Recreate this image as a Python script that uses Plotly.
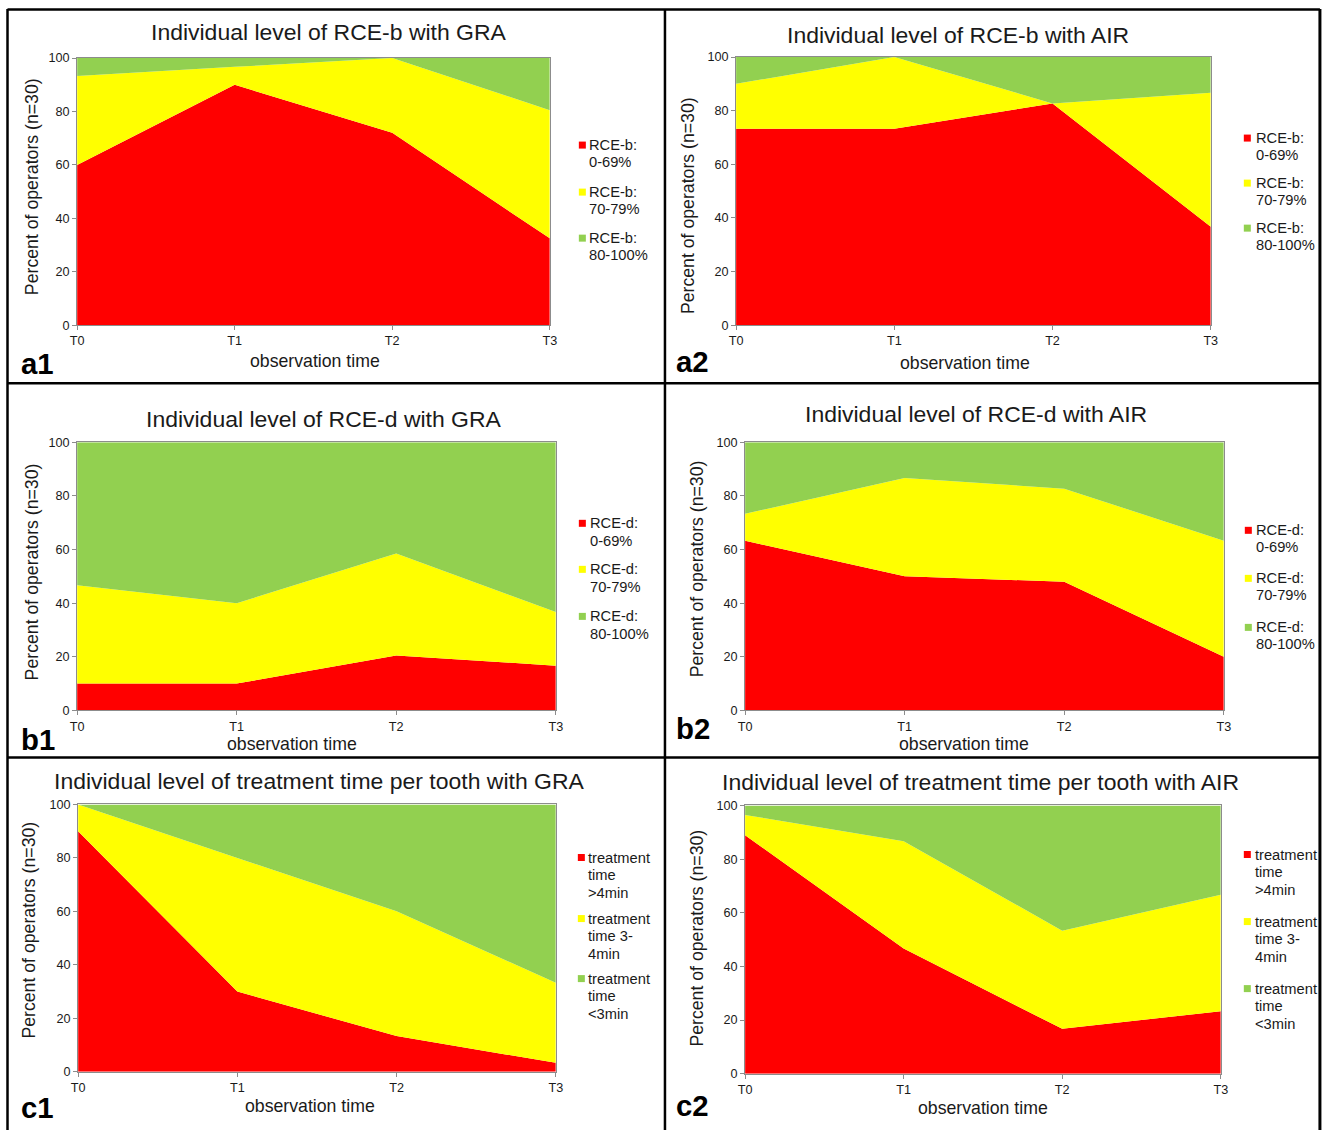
import plotly.graph_objects as go

W, H = 1327, 1130
# the photographed page is shown with an 8px offset and a slight shrink;
# layout positions below are given in target-image pixels and mapped back
OFF, SX, SY = 8, 0.988, 0.987

# ---------------- data ----------------
times = ["T0", "T1", "T2", "T3"]
xpos = [0, 1, 2, 3]
y_ticks = [0, 20, 40, 60, 80, 100]

a1_red = [60, 90, 72, 32.5]
a1_yellow = [33.3, 6.7, 28, 48]
a1_green = [6.7, 3.3, 0, 19.5]

a2_red = [73.3, 73.3, 82.7, 36.7]
a2_yellow = [16.7, 26.7, 0, 50]
a2_green = [10, 0, 17.3, 13.3]

b1_red = [10, 10, 20.5, 16.7]
b1_yellow = [36.7, 30, 38, 20]
b1_green = [53.3, 60, 41.5, 63.3]

b2_red = [63.3, 50, 48, 20]
b2_yellow = [10, 36.7, 34.7, 43.3]
b2_green = [26.7, 13.3, 17.3, 36.7]

c1_red = [90, 30, 13.3, 3.3]
c1_yellow = [10, 50, 46.7, 30]
c1_green = [0, 20, 40, 66.7]

c2_red = [88.9, 46.7, 16.7, 23.3]
c2_yellow = [7.6, 40, 36.6, 43.4]
c2_green = [3.5, 13.3, 46.7, 33.3]

titles = {
    "a1": "Individual level of RCE-b with GRA",
    "a2": "Individual level of RCE-b with AIR",
    "b1": "Individual level of RCE-d with GRA",
    "b2": "Individual level of RCE-d with AIR",
    "c1": "Individual level of treatment time per tooth with GRA",
    "c2": "Individual level of treatment time per tooth with AIR",
}
rce_b_labels = [["RCE-b:", "0-69%"], ["RCE-b:", "70-79%"], ["RCE-b:", "80-100%"]]
rce_d_labels = [["RCE-d:", "0-69%"], ["RCE-d:", "70-79%"], ["RCE-d:", "80-100%"]]
time_labels = [["treatment", "time", "&gt;4min"],
               ["treatment", "time 3-", "4min"],
               ["treatment", "time", "&lt;3min"]]
y_title = "Percent of operators (n=30)"
x_title = "observation time"

colors = ["#FF0000", "#FFFF00", "#92D050"]

# ---------------- layout geometry (target pixels) ----------------
panels = [
    dict(key="a1", data=[a1_red, a1_yellow, a1_green], labels=rce_b_labels,
         plot=(78, 550, 59, 326), title=(330, 33), xt=(316, 362), yt=(33, 188),
         lab=(20, 364), leg=(579, 587.5, [146, 193, 239], 17)),
    dict(key="a2", data=[a2_red, a2_yellow, a2_green], labels=rce_b_labels,
         plot=(736, 1210, 58, 326), title=(958, 36), xt=(965, 364), yt=(688, 206),
         lab=(674, 362), leg=(1243, 1253.5, [139, 184, 229], 17)),
    dict(key="b1", data=[b1_red, b1_yellow, b1_green], labels=rce_d_labels,
         plot=(78, 556, 443, 711), title=(325, 420), xt=(293, 745), yt=(33, 573),
         lab=(20, 740), leg=(579, 588.5, [524, 570, 617], 18)),
    dict(key="b2", data=[b2_red, b2_yellow, b2_green], labels=rce_d_labels,
         plot=(745, 1223, 443, 711), title=(976, 415), xt=(964, 745), yt=(697, 570),
         lab=(674, 729), leg=(1244, 1253.5, [531, 579, 628], 17)),
    dict(key="c1", data=[c1_red, c1_yellow, c1_green], labels=time_labels,
         plot=(79, 556, 805, 1072), title=(320, 782), xt=(311, 1106), yt=(30, 931),
         lab=(20, 1108), leg=(578, 586.5, [858, 919, 979], 17.5)),
    dict(key="c2", data=[c2_red, c2_yellow, c2_green], labels=time_labels,
         plot=(745, 1220, 806, 1074), title=(980, 783), xt=(983, 1108), yt=(697, 939),
         lab=(674, 1106), leg=(1243, 1252.5, [855, 922, 989], 17.5)),
]


def px(x):
    return ((x - OFF) / SX) / W


def py(y):
    return 1 - ((y - OFF) / SY) / H


def fs(s):
    return round(s / SX, 2)


fig = go.Figure()
annotations = []
shapes = []

TXT = "#1a1a1a"
FONT = "Liberation Sans, Arial, sans-serif"

for i, p in enumerate(panels):
    n = i + 1
    xa = "x" if n == 1 else f"x{n}"
    ya = "y" if n == 1 else f"y{n}"
    for vals, col in zip(p["data"], colors):
        fig.add_trace(go.Scatter(
            x=xpos, y=vals, xaxis=xa, yaxis=ya, mode="none",
            stackgroup=f"s{n}", fill="tonexty", fillcolor=col,
            line=dict(width=0), showlegend=False, hoverinfo="skip"))
    x0, x1, y0, y1 = p["plot"]
    axis_common = dict(showgrid=False, zeroline=False, showline=True,
                       linecolor="#8c8c8c", linewidth=1, mirror=True,
                       ticks="outside", ticklen=4, tickcolor="#8c8c8c",
                       tickfont=dict(family=FONT, size=fs(12.5), color=TXT),
                       fixedrange=True)
    fig.layout[f"xaxis{'' if n == 1 else n}"] = dict(
        domain=[px(x0), px(x1)], anchor=ya, range=[0, 3],
        tickvals=xpos, ticktext=times, **axis_common)
    fig.layout[f"yaxis{'' if n == 1 else n}"] = dict(
        domain=[py(y1), py(y0)], anchor=xa, range=[0, 100],
        tickvals=y_ticks, **axis_common)

    tx, ty = p["title"]
    annotations.append(dict(text=titles[p["key"]], x=px(tx), y=py(ty),
                            xref="paper", yref="paper", showarrow=False,
                            xanchor="center", yanchor="middle",
                            font=dict(family=FONT, size=fs(22.7), color=TXT)))
    ax_, ay_ = p["xt"]
    annotations.append(dict(text=x_title, x=px(ax_), y=py(ay_),
                            xref="paper", yref="paper", showarrow=False,
                            xanchor="center", yanchor="middle",
                            font=dict(family=FONT, size=fs(17.5), color=TXT)))
    yx_, yy_ = p["yt"]
    annotations.append(dict(text=y_title, x=px(yx_), y=py(yy_),
                            xref="paper", yref="paper", showarrow=False,
                            textangle=-90, xanchor="center", yanchor="middle",
                            font=dict(family=FONT, size=fs(17.5), color=TXT)))
    lx, ly = p["lab"]
    annotations.append(dict(text=f"<b>{p['key']}</b>", x=px(lx), y=py(ly),
                            xref="paper", yref="paper", showarrow=False,
                            xanchor="left", yanchor="middle",
                            font=dict(family=FONT, size=fs(29), color="#000")))
    sqx, tx_, item_ys, dy = p["leg"]
    for lines, col, iy in zip(p["labels"], colors, item_ys):
        shapes.append(dict(type="rect", xref="paper", yref="paper",
                           x0=px(sqx), x1=px(sqx + 7), y0=py(iy + 3.5), y1=py(iy - 3.5),
                           fillcolor=col, line=dict(width=0)))
        for k, t in enumerate(lines):
            annotations.append(dict(text=t, x=px(tx_), y=py(iy + k * dy),
                                    xref="paper", yref="paper", showarrow=False,
                                    xanchor="left", yanchor="middle",
                                    font=dict(family=FONT, size=fs(14.5), color=TXT)))

# panel frame lines
RIGHT = 1319
for (xa0, ya0, xa1, ya1, w) in [(8.5, 10.5, RIGHT, 10.5, 2.5), (8.5, 10, 8.5, 1135, 2.5),
                                (RIGHT, 10, RIGHT, 1135, 3), (665, 10, 665, 1135, 2.5),
                                (8.5, 384, RIGHT, 384, 2.5), (8.5, 758, RIGHT, 758, 2.5)]:
    shapes.append(dict(type="line", xref="paper", yref="paper",
                       x0=px(xa0), y0=py(ya0), x1=px(xa1), y1=py(ya1),
                       line=dict(color="#000", width=w)))

fig.update_layout(width=W, height=H, margin=dict(l=0, r=0, t=0, b=0),
                  paper_bgcolor="white", plot_bgcolor="white",
                  annotations=annotations, shapes=shapes, showlegend=False)

fig.write_html(
    "out.html",
    config={"displayModeBar": False, "staticPlot": True},
    post_script="document.body.style.margin='0';document.body.style.padding='0';"
                "document.body.style.overflow='hidden';"
                "document.documentElement.style.overflow='hidden';")
